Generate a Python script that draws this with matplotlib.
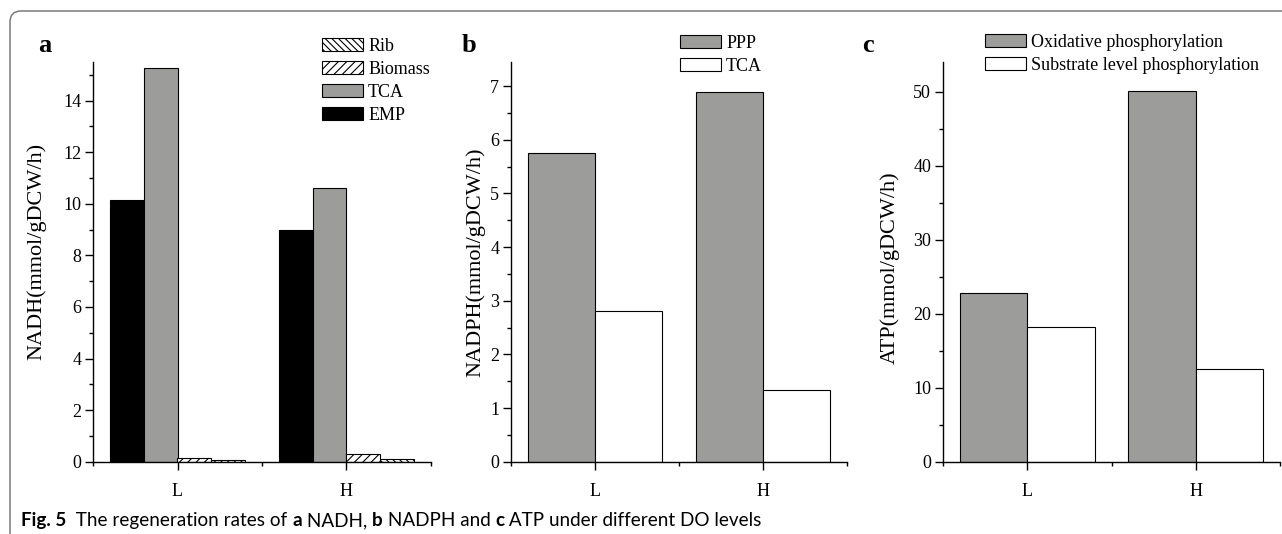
import matplotlib
matplotlib.use("Agg")
import matplotlib.pyplot as plt
from matplotlib.patches import FancyBboxPatch
from matplotlib.transforms import IdentityTransform
import numpy as np

# ---------------- data ----------------
categories = ["L", "H"]

nadh_emp = [10.15, 8.97]
nadh_tca = [15.27, 10.60]
nadh_biomass = [0.13, 0.29]
nadh_rib = [0.06, 0.12]

nadph_ppp = [5.75, 6.90]
nadph_tca = [2.81, 1.34]

atp_oxidative = [22.8, 50.1]
atp_substrate = [18.2, 12.5]

# ---------------- style ----------------
W, H = 1282, 534
DPI = 100
SERIF = ["Liberation Serif", "DejaVu Serif"]
GRAY = "#9c9d9b"
plt.rcParams["font.family"] = SERIF
plt.rcParams["hatch.linewidth"] = 0.8

fig = plt.figure(figsize=(W / DPI, H / DPI), dpi=DPI)


def ax_at(x0, x1, y_top, y_bot):
    return fig.add_axes([x0 / W, 1 - y_bot / H, (x1 - x0) / W, (y_bot - y_top) / H])


def style_axes(ax, ylim, major):
    ax.set_xlim(0, 2)
    ax.set_ylim(*ylim)
    ax.spines["top"].set_visible(False)
    ax.spines["right"].set_visible(False)
    for s in ("left", "bottom"):
        ax.spines[s].set_linewidth(1.0)
    centers = np.arange(len(categories)) + 0.5
    ax.set_xticks(centers)
    ax.set_xticklabels(categories)
    ax.set_xticks([0, 1, 2], minor=True)
    ax.set_yticks(np.arange(0, ylim[1] + 1e-9, major))
    ax.set_yticks(np.arange(major / 2, ylim[1], major), minor=True)
    ax.tick_params(axis="both", which="major", direction="out", length=5.5, width=1.0,
                   labelsize=13, pad=3)
    ax.tick_params(axis="both", which="minor", direction="out", length=3, width=1.0)
    ax.tick_params(axis="x", which="major", pad=10)
    return centers


LEG = dict(loc="upper left", bbox_transform=fig.transFigure, frameon=False, fontsize=13,
           handlelength=2.25, handleheight=0.75, handletextpad=0.3,
           labelspacing=0.33, borderpad=0, borderaxespad=0)
kw = dict(edgecolor="black", linewidth=0.8)

# ---------------- panel a ----------------
axa = ax_at(93, 431, 62, 461.7)
c = style_axes(axa, (0, 15.5), 2)
bw = 0.2
b_emp = axa.bar(c - 0.3, nadh_emp, bw, color="black", label="EMP", **kw)
b_tca = axa.bar(c - 0.1, nadh_tca, bw, color=GRAY, label="TCA", **kw)
b_bio = axa.bar(c + 0.1, nadh_biomass, bw, color="white", hatch="////", label="Biomass", **kw)
b_rib = axa.bar(c + 0.3, nadh_rib, bw, color="white", hatch="\\\\\\\\\\", label="Rib", **kw)
axa.legend([b_rib, b_bio, b_tca, b_emp], ["Rib", "Biomass", "TCA", "EMP"],
           bbox_to_anchor=(322 / W, 1 - 38 / H), **LEG)

# ---------------- panel b ----------------
axb = ax_at(511, 847, 62, 461.7)
c = style_axes(axb, (0, 7.45), 1)
bw = 0.4
p1 = axb.bar(c - 0.2, nadph_ppp, bw, color=GRAY, label="PPP", **kw)
p2 = axb.bar(c + 0.2, nadph_tca, bw, color="white", label="TCA", **kw)
axb.legend([p1, p2], ["PPP", "TCA"], bbox_to_anchor=(680 / W, 1 - 35 / H), **LEG)

# ---------------- panel c ----------------
axc = ax_at(943, 1280, 62, 461.7)
c = style_axes(axc, (0, 54), 10)
q1 = axc.bar(c - 0.2, atp_oxidative, bw, color=GRAY, label="Oxidative phosphorylation", **kw)
q2 = axc.bar(c + 0.2, atp_substrate, bw, color="white", label="Substrate level phosphorylation", **kw)
axc.legend([q1, q2], ["Oxidative phosphorylation", "Substrate level phosphorylation"],
           bbox_to_anchor=(985 / W, 1 - 34 / H), **LEG)

# ---------------- y labels & panel letters ----------------
fig.text(37 / W, 1 - 251 / H, "NADH(mmol/gDCW/h)", rotation=90, ha="center", va="center", fontsize=16)
fig.text(476 / W, 1 - 262 / H, "NADPH(mmol/gDCW/h)", rotation=90, ha="center", va="center", fontsize=16)
fig.text(890 / W, 1 - 268 / H, "ATP(mmol/gDCW/h)", rotation=90, ha="center", va="center", fontsize=16)

for x, lab in [(38, "a"), (462, "b"), (862, "c")]:
    fig.text(x / W, 1 - 52 / H, lab, fontsize=19, fontweight="bold", ha="left", va="baseline")

# ---------------- frame ----------------
frame = FancyBboxPatch((10, -40), 1400, H - 11 + 40, boxstyle="round,pad=0,rounding_size=11",
                       transform=IdentityTransform(), facecolor="none",
                       edgecolor="#7a7a7a", linewidth=1.1)
fig.patches.append(frame)

# ---------------- caption ----------------
renderer = fig.canvas.get_renderer()
cap_parts = [("Fig. 5", "bold"), ("  The regeneration rates of ", "normal"), ("a", "bold"),
             (" NADH, ", "normal"), ("b", "bold"), (" NADPH and ", "normal"), ("c", "bold"),
             (" ATP under different DO levels", "normal")]
CAP_FAMILY = ["Lato", "DejaVu Sans"]


def caption_width(size):
    tot = 0
    for txt, wt in cap_parts:
        t = fig.text(0, 0, txt, fontsize=size, fontweight=wt, family=CAP_FAMILY)
        tot += t.get_window_extent(renderer).width
        t.remove()
    return tot


size = 10 * 736 / caption_width(10)
x = 21
for txt, wt in cap_parts:
    t = fig.text(x / W, 1 - 526 / H, txt, fontsize=size, fontweight=wt, family=CAP_FAMILY,
                 ha="left", va="baseline")
    x = t.get_window_extent(renderer).x1

fig.savefig("out.png", dpi=DPI)
